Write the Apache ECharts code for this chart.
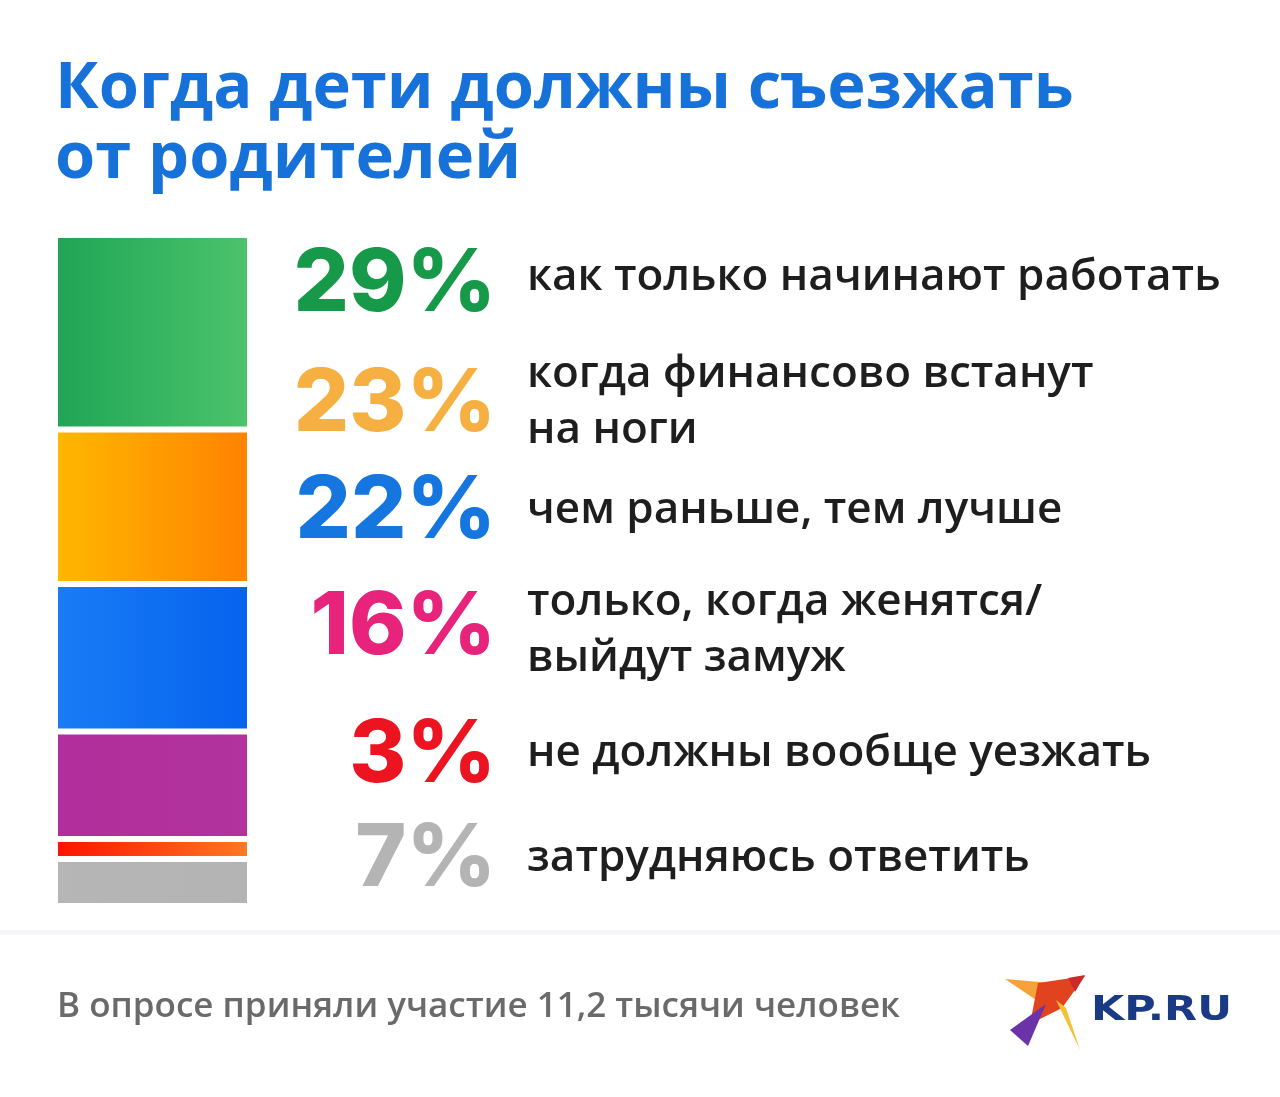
<!DOCTYPE html>
<html>
<head>
<meta charset="utf-8">
<script src="https://cdn.jsdelivr.net/npm/echarts@6/dist/echarts.min.js"></script>
<style>
html,body{margin:0;padding:0;background:#ffffff;}
#chart{width:1280px;height:1097px;}
</style>
</head>
<body>
<div id="chart"></div>
<script>
// ---- data ----
const titleLines = ['Когда дети должны съезжать', 'от родителей'];
const categories = [
  'как только начинают работать',
  'когда финансово встанут\nна ноги',
  'чем раньше, тем лучше',
  'только, когда женятся/\nвыйдут замуж',
  'не должны вообще уезжать',
  'затрудняюсь ответить'
];
const values = [29, 23, 22, 16, 3, 7];
const footnote = 'В опросе приняли участие 11,2 тысячи человек';
const logoText = 'KP.RU';

// ---- styles ----
const barGradients = [
  ['#1fa555', '#4cc36c'],
  ['#ffb800', '#ff8200'],
  ['#1a7cf5', '#0562ee'],
  ['#b12e9c', '#b2339c'],
  ['#ff1200', '#ff7a22'],
  ['#b6b6b6', '#b3b3b3']
];
const pctColors = ['#17994a', '#f5b041', '#1676e0', '#e7237c', '#ec1420', '#b4b4b4'];
const pctY = [285, 405, 512, 628, 756, 860];
const labelY = [277, 402, 510, 630, 753, 858];

const chart = echarts.init(document.getElementById('chart'), null, {renderer: 'canvas'});

const series = [];
for (let i = values.length - 1; i >= 0; i--) {
  const g = barGradients[i];
  series.push({
    type: 'bar',
    stack: 'total',
    name: categories[i],
    barWidth: '100%',
    data: [values[i]],
    itemStyle: {
      color: new echarts.graphic.LinearGradient(0, 0, 1, 0, [
        {offset: 0, color: g[0]}, {offset: 1, color: g[1]}
      ]),
      borderColor: '#ffffff',
      borderWidth: 3
    },
    silent: true
  });
}

const graphics = [];
titleLines.forEach((t, k) => {
  graphics.push({
    type: 'text', left: 55, top: 57 + k * 70,
    style: {text: t, fill: '#1672d8', font: 'bold 65px "Open Sans"'}
  });
});
values.forEach((v, i) => {
  graphics.push({
    type: 'text', x: 496, y: pctY[i],
    style: {text: v + '%', fill: pctColors[i], font: '800 87px "Inter"',
      textAlign: 'right', textVerticalAlign: 'middle'}
  });
  graphics.push({
    type: 'text', x: 527, y: labelY[i],
    style: {text: categories[i], fill: '#1e1e1e', font: '600 44px "Open Sans"',
      lineHeight: 56, textAlign: 'left', textVerticalAlign: 'middle'}
  });
});
// separator
graphics.push({
  type: 'rect', shape: {x: 0, y: 930, width: 1280, height: 5},
  style: {fill: '#f6f5fa'}
});
graphics.push({
  type: 'text', x: 57, y: 1007,
  style: {text: footnote, fill: '#6a6a6a', font: '600 35px "Open Sans"',
    textVerticalAlign: 'middle'}
});
// logo bird
graphics.push({type: 'polygon', shape: {points: [[1005,979],[1062,984],[1042,1004]]}, style: {fill: '#f5a238'}});
graphics.push({type: 'polygon', shape: {points: [[1038,983],[1085,976],[1062,1008],[1030,1024]]}, style: {fill: '#e2431f'}});
graphics.push({type: 'polygon', shape: {points: [[1068,978],[1085,975],[1075,992]]}, style: {fill: '#c92a2a'}});
graphics.push({type: 'polygon', shape: {points: [[1010,1030],[1046,1004],[1028,1046]]}, style: {fill: '#6a34a8'}});
graphics.push({type: 'polygon', shape: {points: [[1056,1000],[1066,1008],[1080,1050]]}, style: {fill: '#f6c033'}});
graphics.push({
  type: 'text', x: 1091, y: 1011, scaleX: 1.3,
  style: {text: logoText, fill: '#1b3a86', font: 'bold 33px "DejaVu Sans"',
    textVerticalAlign: 'middle'}
});

chart.setOption({
  backgroundColor: '#ffffff',
  animation: false,
  grid: {left: 55, top: 235, width: 195, height: 671},
  xAxis: {type: 'category', data: ['all'], show: false},
  yAxis: {type: 'value', min: 0, max: 100, show: false},
  series: series,
  graphic: graphics
});
</script>
</body>
</html>
